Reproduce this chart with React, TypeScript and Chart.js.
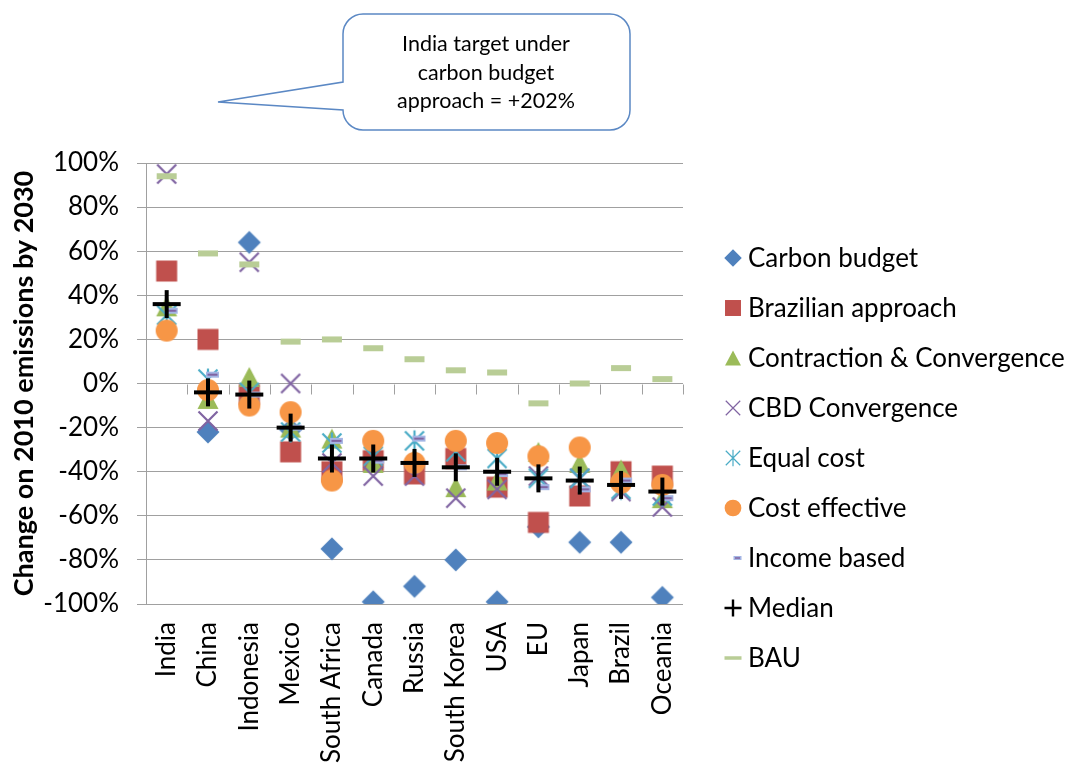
import React, { useEffect, useRef } from 'react';
import { Chart, registerables } from 'chart.js';

Chart.register(...registerables);

const categories = ['India', 'China', 'Indonesia', 'Mexico', 'South Africa', 'Canada', 'Russia', 'South Korea', 'USA', 'EU', 'Japan', 'Brazil', 'Oceania'];

const carbonBudget = [202, -22, 64, -21, -75, -99, -92, -80, -99, -65, -72, -72, -97];
const brazilianApproach = [51, 20, -5, -31, -40, -35, -41, -34, -47, -63, -51, -40, -42];
const contractionConvergence = [35, -7, 3, -20, -25, -36, -34, -47, -44, -31, -36, -39, -52];
const cbdConvergence = [95, -17, 55, 0, -36, -42, -42, -52, -48, -42, -43, -49, -56];
const equalCost = [31, 2, -4, -22, -27, -33, -26, -31, -34, -43, -43, -48, -51];
const costEffective = [24, -3, -10, -13, -44, -26, -36, -26, -27, -33, -29, -45, -46];
const incomeBased = [33, 4, -5, -20, -26, -35, -25, -38, -41, -47, -48, -44, -52];
const median = [36, -4, -5, -20, -34, -34, -36, -38, -40, -43, -44, -46, -49];
const bau = [94, 59, 54, 19, 20, 16, 11, 6, 5, -9, 0, 7, 2];

const seriesLabels = ['Carbon budget', 'Brazilian approach', 'Contraction & Convergence', 'CBD Convergence', 'Equal cost', 'Cost effective', 'Income based', 'Median', 'BAU'];
const seriesData = [carbonBudget, brazilianApproach, contractionConvergence, cbdConvergence, equalCost, costEffective, incomeBased, median, bau];
type Kind = 'diamond' | 'square' | 'triangle' | 'x' | 'star' | 'circle' | 'dash' | 'plus' | 'bau';
const seriesKinds: Kind[] = ['diamond', 'square', 'triangle', 'x', 'star', 'circle', 'dash', 'plus', 'bau'];

const yMin = -100;
const yMax = 100;
const yStep = 20;

const calloutLines = ['India target under', 'carbon budget', 'approach = +202%'];
const yTitle = 'Change on 2010 emissions by 2030';

const FONT = 'Lato, "Open Sans", sans-serif';

function drawMarker(ctx: CanvasRenderingContext2D, kind: Kind, cx: number, cy: number, legend: boolean) {
  const k = legend ? 0.76 : 1;
  ctx.save();
  switch (kind) {
    case 'diamond': {
      const r = 11.5 * k;
      ctx.fillStyle = '#4F81BD';
      ctx.beginPath();
      ctx.moveTo(cx, cy - r);
      ctx.lineTo(cx + r, cy);
      ctx.lineTo(cx, cy + r);
      ctx.lineTo(cx - r, cy);
      ctx.closePath();
      ctx.fill();
      break;
    }
    case 'square': {
      const h = 10.5 * k;
      ctx.fillStyle = '#C0504D';
      ctx.fillRect(cx - h, cy - h, 2 * h, 2 * h);
      break;
    }
    case 'triangle': {
      const hw = 10.5 * k;
      const hh = 10 * k;
      ctx.fillStyle = '#9BBB59';
      ctx.beginPath();
      ctx.moveTo(cx, cy - hh);
      ctx.lineTo(cx + hw, cy + hh);
      ctx.lineTo(cx - hw, cy + hh);
      ctx.closePath();
      ctx.fill();
      break;
    }
    case 'x': {
      const h = 9.5 * k;
      ctx.strokeStyle = '#8064A2';
      ctx.lineWidth = legend ? 1.2 : 2.2;
      ctx.beginPath();
      ctx.moveTo(cx - h, cy - h);
      ctx.lineTo(cx + h, cy + h);
      ctx.moveTo(cx + h, cy - h);
      ctx.lineTo(cx - h, cy + h);
      ctx.stroke();
      break;
    }
    case 'star': {
      const h = 9.5 * k;
      ctx.strokeStyle = '#4BACC6';
      ctx.lineWidth = legend ? 1.2 : 2.2;
      ctx.beginPath();
      ctx.moveTo(cx - h, cy - h);
      ctx.lineTo(cx + h, cy + h);
      ctx.moveTo(cx + h, cy - h);
      ctx.lineTo(cx - h, cy + h);
      ctx.moveTo(cx, cy - h - 1);
      ctx.lineTo(cx, cy + h + 1);
      ctx.stroke();
      break;
    }
    case 'circle': {
      ctx.fillStyle = '#F79646';
      ctx.beginPath();
      ctx.arc(cx, cy, 11 * k, 0, Math.PI * 2);
      ctx.fill();
      break;
    }
    case 'dash': {
      const w = legend ? 8 : 13;
      const h = legend ? 4 : 6;
      const x0 = cx + 4.5 - w / 2;
      ctx.fillStyle = '#A4B5E4';
      ctx.fillRect(x0, cy - h / 2, w, h);
      ctx.strokeStyle = '#8064A2';
      ctx.lineWidth = legend ? 1.5 : 2;
      ctx.beginPath();
      ctx.moveTo(x0 + 1.5, cy);
      ctx.lineTo(x0 + w - 1.5, cy);
      ctx.stroke();
      break;
    }
    case 'plus': {
      const h = legend ? 8.5 : 14;
      ctx.strokeStyle = '#000';
      ctx.lineWidth = legend ? 2.4 : 4;
      ctx.beginPath();
      ctx.moveTo(cx - h, cy);
      ctx.lineTo(cx + h, cy);
      ctx.moveTo(cx, cy - h);
      ctx.lineTo(cx, cy + h);
      ctx.stroke();
      break;
    }
    case 'bau': {
      const w = legend ? 17 : 20;
      const h = legend ? 3.5 : 6;
      ctx.fillStyle = '#B9CD96';
      ctx.fillRect(cx - w / 2, cy - h / 2, w, h);
      break;
    }
  }
  ctx.restore();
}

function makeMarkerCanvas(kind: Kind): HTMLCanvasElement {
  const c = document.createElement('canvas');
  c.width = 34;
  c.height = 34;
  const ctx = c.getContext('2d')!;
  drawMarker(ctx, kind, 17, 17, false);
  return c;
}

const zeroTicksPlugin = {
  id: 'zeroTicks',
  beforeDatasetsDraw(chart: any) {
    const { ctx, chartArea, scales } = chart;
    const x = scales.x;
    const y = scales.y;
    const y0 = Math.round(y.getPixelForValue(0)) + 0.5;
    const n = categories.length;
    const step = (chartArea.right - chartArea.left) / n;
    ctx.save();
    ctx.strokeStyle = '#A0A0A0';
    ctx.lineWidth = 1;
    ctx.beginPath();
    for (let i = 0; i <= n; i++) {
      const px = Math.round(x.getPixelForValue(0) - step / 2 + step * i) + 0.5;
      ctx.moveTo(px, y0);
      ctx.lineTo(px, y0 + 10);
    }
    ctx.stroke();
    ctx.restore();
  },
};

const legendPlugin = {
  id: 'customLegend',
  afterDraw(chart: any) {
    const { ctx, chartArea } = chart;
    const left = chartArea.right + 50;
    const top = chartArea.top + 95;
    const gap = 50;
    ctx.save();
    ctx.font = `26px ${FONT}`;
    ctx.fillStyle = '#000';
    ctx.textBaseline = 'middle';
    ctx.textAlign = 'left';
    seriesLabels.forEach((label, i) => {
      const cy = top + gap * i;
      drawMarker(ctx, seriesKinds[i], left, cy, true);
      ctx.fillText(label, left + 15, cy + 1);
    });
    ctx.restore();
  },
};

export default function App() {
  const ref = useRef<HTMLCanvasElement>(null);

  useEffect(() => {
    const canvas = ref.current;
    if (!canvas) return;
    const markers = seriesKinds.map((k) => makeMarkerCanvas(k));
    const chart = new Chart(canvas, {
      type: 'line',
      data: {
        labels: categories,
        datasets: seriesLabels.map((label, i) => ({
          label,
          data: seriesData[i],
          showLine: false,
          pointStyle: markers[i] as any,
          pointRadius: 14,
          pointHoverRadius: 14,
          borderColor: 'transparent',
          backgroundColor: 'transparent',
          order: seriesLabels.length - i,
        })),
      },
      options: {
        responsive: false,
        animation: false,
        events: [],
        layout: { padding: { top: 163, right: 388, left: 0, bottom: 0 } },
        plugins: {
          legend: { display: false },
          tooltip: { enabled: false },
          title: { display: false },
        },
        scales: {
          x: {
            type: 'category',
            offset: true,
            grid: { display: false, drawTicks: false, offset: true },
            border: { display: false },
            ticks: {
              autoSkip: false,
              minRotation: 90,
              maxRotation: 90,
              padding: 18,
              color: '#000',
              font: { family: FONT, size: 26 },
            },
            afterFit: (s: any) => {
              s.height = 161;
            },
          },
          y: {
            min: yMin,
            max: yMax,
            grid: { color: '#A0A0A0', lineWidth: 1, tickLength: 9, drawTicks: true },
            border: { display: true, color: '#A0A0A0' },
            ticks: {
              stepSize: yStep,
              padding: 18,
              color: '#000',
              font: { family: FONT, size: 26 },
              callback: (v: any) => `${v}%`,
            },
            title: {
              display: true,
              text: yTitle,
              color: '#000',
              font: { family: FONT, size: 27, weight: 'bold' },
              padding: { top: 8, bottom: 0 },
            },
            afterFit: (s: any) => {
              s.width = 146;
            },
          },
        },
      },
      plugins: [zeroTicksPlugin, legendPlugin],
    } as any);
    return () => chart.destroy();
  }, []);

  return (
    <div style={{ position: 'fixed', left: 0, top: 0, width: 1071, height: 765, background: '#fff' }}>
      <canvas ref={ref} width={1071} height={765} style={{ position: 'absolute', left: 0, top: 0, width: 1071, height: 765 }} />
      <svg width={1071} height={765} style={{ position: 'absolute', left: 0, top: 0, pointerEvents: 'none' }}>
        <path
          d="M 363 14 H 610 A 20 20 0 0 1 630 34 V 110 A 20 20 0 0 1 610 130 H 363 A 20 20 0 0 1 343 110 L 218 102 L 343 82 V 34 A 20 20 0 0 1 363 14 Z"
          fill="#fff"
          stroke="#5B88C4"
          strokeWidth={1.5}
        />
        {calloutLines.map((line, i) => (
          <text key={i} x={486} y={51 + i * 28.5} textAnchor="middle" fontFamily={FONT} fontSize={21.5} fill="#000">
            {line}
          </text>
        ))}
      </svg>
    </div>
  );
}
